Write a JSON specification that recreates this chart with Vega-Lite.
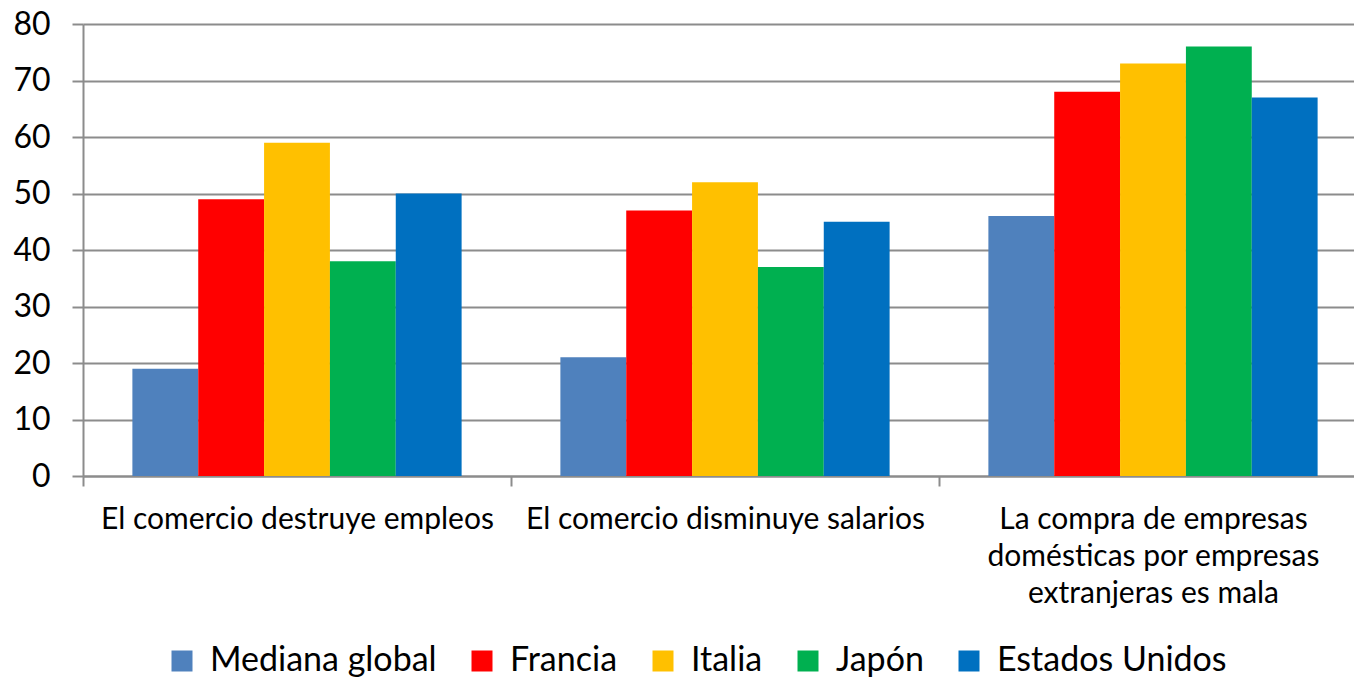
{
  "$schema": "https://vega.github.io/schema/vega-lite/v6.json",
  "width": 1284,
  "height": 452,
  "autosize": {"type": "none"},
  "padding": {"left": 83, "top": 24, "right": 0, "bottom": 202},
  "background": "white",
  "config": {
    "view": {"stroke": null},
    "font": "Lato"
  },
  "data": {
    "values": [
      {"tema": "El comercio destruye empleos", "grupo": "Mediana global", "valor": 19},
      {"tema": "El comercio destruye empleos", "grupo": "Francia", "valor": 49},
      {"tema": "El comercio destruye empleos", "grupo": "Italia", "valor": 59},
      {"tema": "El comercio destruye empleos", "grupo": "Japón", "valor": 38},
      {"tema": "El comercio destruye empleos", "grupo": "Estados Unidos", "valor": 50},
      {"tema": "El comercio disminuye salarios", "grupo": "Mediana global", "valor": 21},
      {"tema": "El comercio disminuye salarios", "grupo": "Francia", "valor": 47},
      {"tema": "El comercio disminuye salarios", "grupo": "Italia", "valor": 52},
      {"tema": "El comercio disminuye salarios", "grupo": "Japón", "valor": 37},
      {"tema": "El comercio disminuye salarios", "grupo": "Estados Unidos", "valor": 45},
      {"tema": "La compra de empresas domésticas por empresas extranjeras es mala", "grupo": "Mediana global", "valor": 46},
      {"tema": "La compra de empresas domésticas por empresas extranjeras es mala", "grupo": "Francia", "valor": 68},
      {"tema": "La compra de empresas domésticas por empresas extranjeras es mala", "grupo": "Italia", "valor": 73},
      {"tema": "La compra de empresas domésticas por empresas extranjeras es mala", "grupo": "Japón", "valor": 76},
      {"tema": "La compra de empresas domésticas por empresas extranjeras es mala", "grupo": "Estados Unidos", "valor": 67}
    ]
  },
  "mark": {"type": "bar"},
  "encoding": {
    "x": {
      "field": "tema",
      "type": "nominal",
      "sort": null,
      "title": null,
      "scale": {"paddingInner": 0, "paddingOuter": 0},
      "axis": {
        "labelAngle": 0,
        "labelFontSize": 30,
        "labelColor": "#000000",
        "labelPadding": 18,
        "labelLineHeight": 37,
        "labelLimit": 500,
        "labelExpr": "datum.value == 'La compra de empresas domésticas por empresas extranjeras es mala' ? ['La compra de empresas', 'domésticas por empresas', 'extranjeras es mala'] : datum.label",
        "domainColor": "#8c8c8c",
        "domainWidth": 2,
        "tickColor": "#8c8c8c",
        "tickWidth": 2,
        "tickSize": 10,
        "tickBand": "extent"
      }
    },
    "xOffset": {
      "field": "grupo",
      "type": "nominal",
      "sort": ["Mediana global", "Francia", "Italia", "Japón", "Estados Unidos"],
      "scale": {"paddingInner": 0, "paddingOuter": 0.75}
    },
    "y": {
      "field": "valor",
      "type": "quantitative",
      "title": null,
      "scale": {"domain": [0, 80], "nice": false},
      "axis": {
        "values": [0, 10, 20, 30, 40, 50, 60, 70, 80],
        "labelFontSize": 32,
        "labelColor": "#000000",
        "labelPadding": 22,
        "domainColor": "#8c8c8c",
        "domainWidth": 2,
        "tickColor": "#8c8c8c",
        "tickWidth": 2,
        "tickSize": 11,
        "gridColor": "#8c8c8c",
        "gridWidth": 2
      }
    },
    "color": {
      "field": "grupo",
      "type": "nominal",
      "sort": ["Mediana global", "Francia", "Italia", "Japón", "Estados Unidos"],
      "scale": {
        "domain": ["Mediana global", "Francia", "Italia", "Japón", "Estados Unidos"],
        "range": ["#4F81BD", "#FF0000", "#FFC000", "#00B050", "#0070C0"]
      },
      "legend": {
        "title": null,
        "orient": "none",
        "direction": "horizontal",
        "legendX": 82,
        "legendY": 620,
        "symbolType": "square",
        "symbolSize": 441,
        "symbolStrokeWidth": 0,
        "labelFontSize": 34,
        "labelColor": "#000000",
        "labelOffset": 11,
        "columnPadding": 28,
        "labelLimit": 400
      }
    }
  }
}
